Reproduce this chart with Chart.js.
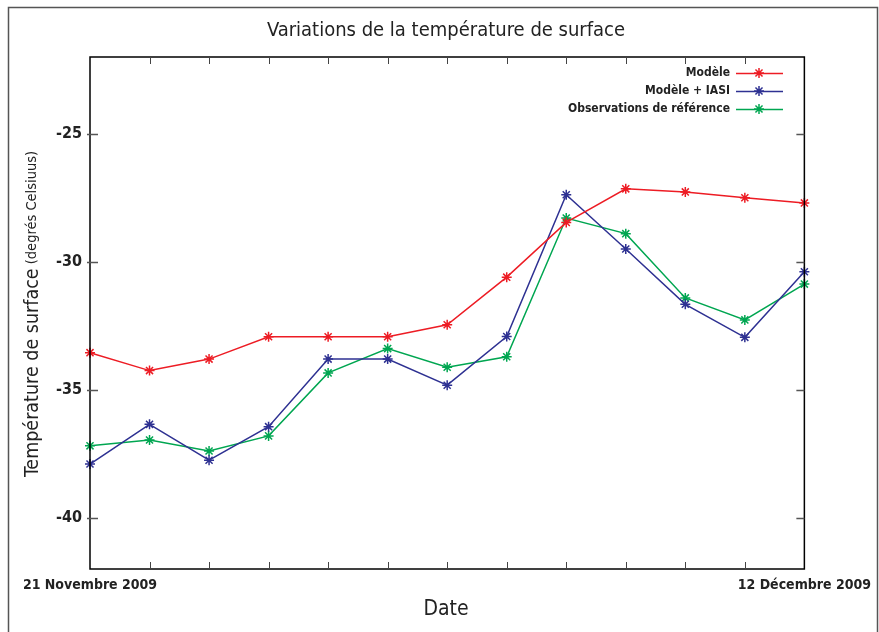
<!DOCTYPE html>
<html>
<head>
<meta charset="utf-8">
<script src="https://cdn.jsdelivr.net/npm/chart.js@4.4.1/dist/chart.umd.min.js"></script>
<style>
  body { margin: 0; background: #fff; }
  canvas { display: block; }
</style>
</head>
<body>
<canvas id="tempChart" width="879" height="632"></canvas>
<script>
const FONT = "'DejaVu Sans Condensed', 'DejaVu Sans', sans-serif";

const dates = ['21 Novembre 2009', '', '', '', '', '', '', '', '', '', '', '', '12 Décembre 2009'];
const modele = [-33.55, -34.25, -33.8, -32.93, -32.93, -32.93, -32.46, -30.6, -28.46, -27.15, -27.27, -27.5, -27.7];
const modeleIasi = [-37.9, -36.35, -37.75, -36.44, -33.8, -33.8, -34.82, -32.92, -27.38, -29.5, -31.66, -32.95, -30.39];
const observations = [-37.19, -36.96, -37.39, -36.8, -34.34, -33.39, -34.12, -33.71, -28.29, -28.9, -31.41, -32.27, -30.87];
const yTicks = [-40, -35, -30, -25];

const seriesColors = ['#ed1c24', '#2e3192', '#00a651'];
const seriesNames = ['Modèle', 'Modèle + IASI', 'Observations de référence'];

// frame, box, ticks, titles and legend drawn over the chart
const decorations = {
    id: 'decorations',
    afterDraw(chart) {
        const ctx = chart.ctx;
        const a = chart.chartArea;
        const x = chart.scales.x;
        const y = chart.scales.y;
        ctx.save();

        // outer frame
        ctx.strokeStyle = '#555';
        ctx.lineWidth = 1.5;
        ctx.beginPath();
        ctx.moveTo(8.5, 632);
        ctx.lineTo(8.5, 7.5);
        ctx.lineTo(877.5, 7.5);
        ctx.lineTo(877.5, 632);
        ctx.stroke();

        // plot box
        ctx.strokeStyle = '#000';
        ctx.lineWidth = 1.5;
        ctx.strokeRect(a.left, a.top, a.right - a.left, a.bottom - a.top);

        // x ticks top and bottom
        ctx.strokeStyle = '#444';
        ctx.lineWidth = 1;
        ctx.beginPath();
        for (let i = 1; i < dates.length - 1; i++) {
            const px = Math.round(x.getPixelForValue(i)) + 0.5;
            ctx.moveTo(px, a.bottom);
            ctx.lineTo(px, a.bottom - 7);
            ctx.moveTo(px, a.top);
            ctx.lineTo(px, a.top + 7);
        }
        ctx.stroke();

        // y ticks left and right
        ctx.strokeStyle = '#555';
        ctx.lineWidth = 1.5;
        ctx.beginPath();
        yTicks.forEach(v => {
            const py = Math.round(y.getPixelForValue(v)) + 0.5;
            ctx.moveTo(a.left - 3, py);
            ctx.lineTo(a.left + 8, py);
            ctx.moveTo(a.right, py);
            ctx.lineTo(a.right - 8, py);
        });
        ctx.stroke();

        ctx.fillStyle = '#222';

        // main title
        ctx.font = '20px ' + FONT;
        ctx.textAlign = 'center';
        ctx.textBaseline = 'middle';
        ctx.fillText('Variations de la température de surface', 446, 31);

        // x title
        ctx.font = '21px ' + FONT;
        ctx.fillText('Date', 446, 610);

        // y title, two sizes
        ctx.save();
        ctx.translate(31, 314);
        ctx.rotate(-Math.PI / 2);
        const main = 'Température de surface';
        const sub = ' (degrés Celsiuus)';
        ctx.font = '19.5px ' + FONT;
        const wMain = ctx.measureText(main).width;
        ctx.font = '14.5px ' + FONT;
        const wSub = ctx.measureText(sub).width;
        const start = -(wMain + wSub) / 2;
        ctx.textAlign = 'left';
        ctx.textBaseline = 'alphabetic';
        ctx.font = '19.5px ' + FONT;
        ctx.fillText(main, start, 7);
        ctx.font = '14.5px ' + FONT;
        ctx.fillText(sub, start + wMain, 5);
        ctx.restore();

        // legend
        ctx.font = 'bold 12px ' + FONT;
        ctx.textAlign = 'right';
        ctx.textBaseline = 'middle';
        seriesNames.forEach((name, i) => {
            const ly = 73 + i * 18;
            ctx.fillStyle = '#222';
            ctx.fillText(name, 730, ly);
            ctx.strokeStyle = seriesColors[i];
            ctx.lineWidth = 1.5;
            ctx.beginPath();
            ctx.moveTo(736, ly + 0.5);
            ctx.lineTo(783, ly + 0.5);
            ctx.stroke();
            Chart.helpers.drawPoint(ctx, { pointStyle: 'star', radius: 5, borderWidth: 1.5 }, 759, ly);
        });

        ctx.restore();
    }
};

const datasets = [modele, modeleIasi, observations].map((values, i) => ({
    label: seriesNames[i],
    data: values,
    borderColor: seriesColors[i],
    backgroundColor: seriesColors[i],
    pointBorderColor: seriesColors[i],
    pointStyle: 'star',
    pointRadius: 5,
    pointBorderWidth: 1.5,
    borderWidth: 1.5,
    tension: 0,
    fill: false
}));

new Chart(document.getElementById('tempChart').getContext('2d'), {
    type: 'line',
    data: { labels: dates, datasets: datasets },
    options: {
        responsive: false,
        animation: false,
        devicePixelRatio: 1,
        layout: { padding: { left: 0, right: 73, top: 57, bottom: 0 } },
        plugins: {
            legend: { display: false },
            title: { display: false },
            tooltip: { enabled: false }
        },
        scales: {
            x: {
                type: 'category',
                offset: false,
                grid: { display: false, drawTicks: false },
                border: { display: false },
                ticks: {
                    autoSkip: false,
                    maxRotation: 0,
                    padding: 8,
                    color: '#222',
                    font: { family: FONT, size: 14, weight: 'bold' }
                },
                afterFit: s => { s.height = 63; }
            },
            y: {
                min: -42,
                max: -22,
                grid: { display: false, drawTicks: false },
                border: { display: false },
                afterBuildTicks: s => { s.ticks = yTicks.map(v => ({ value: v })); },
                ticks: {
                    padding: 8,
                    color: '#222',
                    font: { family: FONT, size: 16, weight: 'bold' }
                },
                afterFit: s => { s.width = 90; }
            }
        }
    },
    plugins: [decorations]
});
</script>
</body>
</html>
